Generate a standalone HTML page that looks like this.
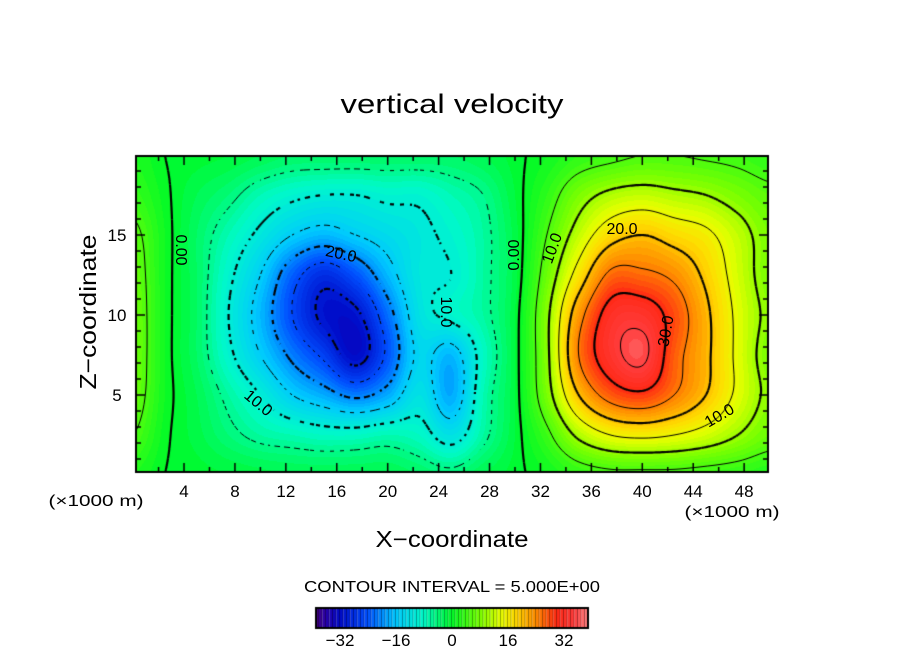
<!DOCTYPE html>
<html><head><meta charset="utf-8">
<style>
body{margin:0;background:#fff;width:904px;height:654px;overflow:hidden;position:relative;font-family:"Liberation Sans",sans-serif;}
canvas{position:absolute;}
</style></head><body>
<canvas id="plot" width="904" height="654" style="left:0;top:0"></canvas>
<svg id="ov" width="904" height="654" style="position:absolute;left:0;top:0" font-family="Liberation Sans, sans-serif">
<text x="452" y="113" font-size="27" text-anchor="middle" textLength="223" lengthAdjust="spacingAndGlyphs">vertical velocity</text>
<text x="0" y="0" font-size="23" text-anchor="middle" textLength="155" lengthAdjust="spacingAndGlyphs" transform="translate(96,312) rotate(-90)">Z−coordinate</text>
<text x="452" y="547" font-size="23" text-anchor="middle" textLength="153" lengthAdjust="spacingAndGlyphs">X−coordinate</text>
<text x="96" y="506" font-size="16" text-anchor="middle" textLength="95" lengthAdjust="spacingAndGlyphs">(×1000 m)</text>
<text x="732" y="517" font-size="16" text-anchor="middle" textLength="95" lengthAdjust="spacingAndGlyphs">(×1000 m)</text>
<text x="452" y="592" font-size="16" text-anchor="middle" textLength="296" lengthAdjust="spacingAndGlyphs">CONTOUR INTERVAL = 5.000E+00</text>
<g id="clabels" font-size="16" text-anchor="middle"></g>
<g id="ticks" font-size="17" text-anchor="middle"></g>
</svg>
<script>
// grid X coordinates (km) and Z coordinates (km)
const xs=[0,2.5,5,7.5,10,12.5,15,17.5,20,22.5,25,27.5,30,32.5,35,37.5,40,42.5,45,47.5,50];
const zs=[0,2.5,5,7.5,10,12.5,15,17.5,20];
// vertical velocity values, one row per Z
const w0 =[2,0,-0.5,-1,-1.5,-2,-2,-2,-2,-3,-4,-2,-0.5,1,3,4,4,4,3.5,3,2];
const w1 =[5,0.5,-1.5,-4,-6,-7,-8,-8,-7,-8,-12,-6,-1,4,11,15,16,15,13,10,7];
const w2 =[7,1,-2,-6,-10,-15,-18,-21,-18,-12,-18,-7,-1,8,20,27,29,25,20,14,9];
const w3 =[7.5,1,-3,-9,-15,-21,-26,-32,-24,-14,-17,-8,-1,9,25,33,36,27,21,14,8];
const w4 =[7.5,1,-3,-10,-17,-25,-31,-31,-22,-12,-9,-6,-1,9,23,32,33,28,21,14,9];
const w5 =[7,1,-3,-9,-15,-23,-28,-24,-17,-11,-10,-6,-1.5,7,17,26,26,24,19,13,8];
const w6 =[6,1,-3,-7,-11,-15,-17,-15,-13,-11,-9,-6,-1.5,5,12,18,20,18,16,12,8];
const w7 =[3.5,0.5,-2,-4,-7,-9,-10,-10,-9,-9,-7,-5,-1,3,8,11,12,11,10,8,6];
const w8 =[2,0,-0.5,-1,-2,-3,-3,-3,-3,-3,-3,-2,-0.5,1,3,4,5,5,4.5,4,3];
const rows=[w0,w1,w2,w3,w4,w5,w6,w7,w8];
const levels=[-35,-30,-25,-20,-15,-10,-5,0,5,10,15,20,25,30,35];
const cbTicks=[-32,-16,0,16,32];

const PL=136,PR=768,PT=156,PB=472;
const sx=x=>133.1+12.73*x, sy=z=>475-16*z;
const ix=p=>(p-133.1)/12.73, iz=p=>(475-p)/16;
function cr(p0,p1,p2,p3,t){return p1+0.5*t*(p2-p0+t*(2*p0-5*p1+4*p2-p3+t*(3*(p1-p2)+p3-p0)));}
function val(X,Z){
  let fx=X/2.5, fz=Z/2.5;
  let i=Math.floor(fx), j=Math.floor(fz);
  const ci=k=>Math.max(0,Math.min(xs.length-1,k)), cj=k=>Math.max(0,Math.min(zs.length-1,k));
  let tx=fx-i, tz=fz-j, r=[];
  for(let b=-1;b<=2;b++){const row=rows[cj(j+b)];
    r.push(cr(row[ci(i-1)],row[ci(i)],row[ci(i+1)],row[ci(i+2)],tx));}
  return cr(r[0],r[1],r[2],r[3],tz);
}
const stops=[[-40,[80,0,110]],[-36,[40,0,170]],[-32,[0,10,200]],[-24,[0,80,255]],[-16,[0,200,255]],[-8,[0,250,200]],[0,[0,250,40]],[8,[120,255,0]],[14,[230,255,0]],[18,[255,220,0]],[24,[255,140,0]],[30,[255,40,20]],[35,[255,60,60]],[40,[255,150,150]]];
function col(v){
  if(v<=stops[0][0])return stops[0][1];
  for(let k=1;k<stops.length;k++){if(v<=stops[k][0]){const a=stops[k-1],b=stops[k],t=(v-a[0])/(b[0]-a[0]);
    return a[1].map((c,m)=>Math.round(c+(b[1][m]-c)*t));}}
  return stops[stops.length-1][1];
}
const cv=document.getElementById('plot'),ctx=cv.getContext('2d');
const W=PR-PL,H=PB-PT,img=ctx.createImageData(W,H);
for(let py=0;py<H;py++)for(let px=0;px<W;px++){
  const v=Math.floor(val(ix(PL+px+0.5),iz(PT+py+0.5)));
  const c=col(v+0.5),o=(py*W+px)*4;
  img.data[o]=c[0];img.data[o+1]=c[1];img.data[o+2]=c[2];img.data[o+3]=255;}
ctx.putImageData(img,PL,PT);
// contours (marching squares)
const st=2,nx=Math.ceil(W/st)+1,ny=Math.ceil(H/st)+1,F=[];
for(let j=0;j<ny;j++){F[j]=[];for(let i=0;i<nx;i++)F[j][i]=val(ix(PL+i*st),iz(PT+j*st));}
ctx.save();ctx.beginPath();ctx.rect(PL,PT,W,H);ctx.clip();
ctx.strokeStyle='#000';ctx.lineCap='butt';
levels.forEach(L=>{
  ctx.lineWidth=(L%10===0)?2.2:1;
  for(let j=0;j<ny-1;j++)for(let i=0;i<nx-1;i++){
    const a=F[j][i],b=F[j][i+1],c=F[j+1][i+1],d=F[j+1][i];
    const pts=[];
    const e=(v1,v2,x1,y1,x2,y2)=>{if((v1<L)!==(v2<L)){const t=(L-v1)/(v2-v1);pts.push([x1+(x2-x1)*t,y1+(y2-y1)*t]);}};
    const x0=PL+i*st,y0=PT+j*st;
    e(a,b,x0,y0,x0+st,y0);e(b,c,x0+st,y0,x0+st,y0+st);e(c,d,x0+st,y0+st,x0,y0+st);e(d,a,x0,y0+st,x0,y0);
    for(let k=0;k+1<pts.length;k+=2){
      const mx=(pts[k][0]+pts[k+1][0])/2,my=(pts[k][1]+pts[k+1][1])/2;
      if(L<0&&((Math.floor(mx/5)+Math.floor(my/5))%2===1))continue;
      ctx.beginPath();ctx.moveTo(pts[k][0],pts[k][1]);ctx.lineTo(pts[k+1][0],pts[k+1][1]);ctx.stroke();}
  }});
ctx.restore();
// frame and ticks
ctx.strokeStyle='#000';ctx.lineWidth=2;ctx.strokeRect(PL,PT,W,H);ctx.lineWidth=1.5;
for(let x=2;x<50;x+=2){const p=sx(x),len=(x%4===0)?9:5;
  ctx.beginPath();ctx.moveTo(p,PB);ctx.lineTo(p,PB-len);ctx.moveTo(p,PT);ctx.lineTo(p,PT+len);ctx.stroke();}
for(let z=1;z<20;z++){const p=sy(z),len=(z%5===0)?9:5;
  ctx.beginPath();ctx.moveTo(PL,p);ctx.lineTo(PL+len,p);ctx.moveTo(PR,p);ctx.lineTo(PR-len,p);ctx.stroke();}
// colorbar
const cb=v=>452+3.5*v;
for(let v=-39;v<39;v++){const c=col(v+0.5);ctx.fillStyle=`rgb(${c})`;ctx.fillRect(cb(v),609,3.5,18);
  ctx.fillStyle='rgba(0,0,0,0.35)';ctx.fillRect(cb(v)+2.5,609,1,18);}
ctx.lineWidth=2;ctx.strokeRect(316,608,272,20);
const NS='http://www.w3.org/2000/svg',tg=document.getElementById('ticks');
function txt(g,x,y,s,rot){const t=document.createElementNS(NS,'text');t.setAttribute('x',0);t.setAttribute('y',0);
  t.setAttribute('transform',`translate(${x},${y}) rotate(${rot||0})`);t.textContent=s;g.appendChild(t);return t;}
for(let x=4;x<=48;x+=4){const t=txt(tg,sx(x),PB+25,String(x));
  
  }
[5,10,15].forEach(z=>{const t=txt(tg,PL-19,sy(z)+6,String(z));
  
  });
cbTicks.forEach(v=>{const t=txt(tg,cb(v),646,(v<0?'−':'')+Math.abs(v));
  
  });
const cl=document.getElementById('clabels');
[[176,250,'0.00',90],[340,259,'20.0',12],[255,407,'10.0',40],[441,312,'10.0',90],[519,255,'0.00',-90],[557,250,'10.0',-70],[622,234,'20.0',0],[671,332,'30.0',-80],[722,420,'10.0',-30]].forEach(a=>{
  const t=txt(cl,a[0],a[1],a[2],a[3]);
  
  });
</script>
</body></html>
